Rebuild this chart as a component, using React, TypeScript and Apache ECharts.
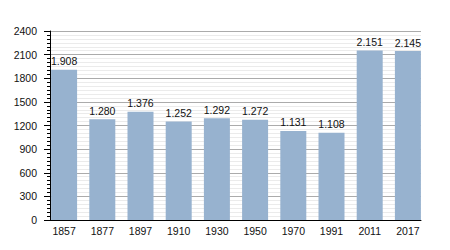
import React, { useEffect, useRef } from "react";
import * as echarts from "echarts";

const years = ["1857", "1877", "1897", "1910", "1930", "1950", "1970", "1991", "2011", "2017"];
const population = [1908, 1280, 1376, 1252, 1292, 1272, 1131, 1108, 2151, 2145];
const yMin = 0;
const yMax = 2400;
const yInterval = 300;

const fmt = (v: number) => {
  const s = String(Math.round(v));
  return s.replace(/\B(?=(\d{3})+(?!\d))/g, ".");
};

export default function App() {
  const ref = useRef<HTMLDivElement>(null);
  useEffect(() => {
    document.body.style.margin = "0";
    const chart = echarts.init(ref.current!, undefined, { renderer: "svg" });
    const font = "'Liberation Sans', Arial, sans-serif";
    chart.setOption({
      animation: false,
      backgroundColor: "#ffffff",
      textStyle: { fontFamily: font },
      grid: [
        { left: 50, right: 29, top: 31, bottom: 30 },
        { left: 45, width: 382, top: 31, bottom: 30 },
      ],
      xAxis: [
        {
          gridIndex: 0,
          type: "value",
          min: 0,
          max: 1,
          z: 10,
          axisLine: { show: true, lineStyle: { color: "#000", width: 1 } },
          axisTick: { show: false },
          axisLabel: { show: false },
          splitLine: { show: false },
        },
        {
          gridIndex: 1,
          type: "category",
          data: years,
          axisLine: { show: false },
          axisTick: { show: false },
          axisLabel: { fontSize: 10.5, color: "#111", margin: 5, fontFamily: font },
          splitLine: { show: false },
        },
      ],
      yAxis: [
        {
          gridIndex: 0,
          type: "value",
          min: yMin,
          max: yMax,
          interval: yInterval,
          axisLine: { show: true, lineStyle: { color: "#000", width: 1 } },
          axisTick: { show: true, length: 6, lineStyle: { color: "#000" } },
          minorTick: { show: true, splitNumber: 6, length: 3, lineStyle: { color: "#000" } },
          splitLine: { show: true, lineStyle: { color: "#ababab", width: 1 } },
          minorSplitLine: { show: true, lineStyle: { color: "#ebebeb", width: 1 } },
          axisLabel: {
            fontSize: 10.5,
            color: "#111",
            margin: 13,
            fontFamily: font,
            formatter: (v: number) => String(v),
          },
        },
        {
          gridIndex: 1,
          type: "value",
          min: yMin,
          max: yMax,
          show: false,
          splitLine: { show: false },
        },
      ],
      series: [
        {
          type: "bar",
          xAxisIndex: 1,
          yAxisIndex: 1,
          data: population,
          barWidth: 26,
          itemStyle: { color: "#97b2cf" },
          label: {
            show: true,
            position: "top",
            distance: 3,
            fontSize: 10.5,
            color: "#111",
            fontFamily: font,
            formatter: (p: any) => fmt(p.value),
          },
        },
      ],
    });
    return () => chart.dispose();
  }, []);
  return <div ref={ref} style={{ width: 450, height: 250 }} />;
}
